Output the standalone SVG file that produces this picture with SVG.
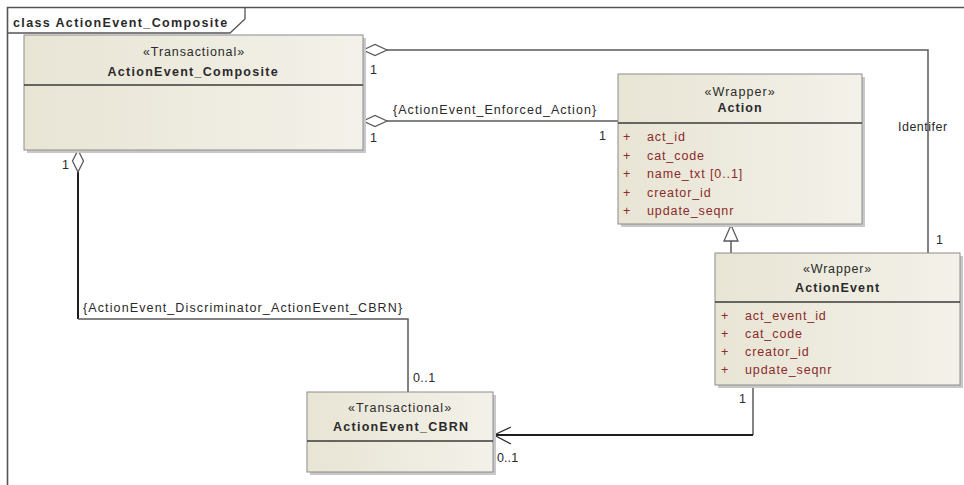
<svg xmlns="http://www.w3.org/2000/svg" width="964" height="485" viewBox="0 0 964 485">
<defs>
<linearGradient id="fill" x1="0" y1="0" x2="1" y2="0">
<stop offset="0" stop-color="#E8E5D5"/>
<stop offset="1" stop-color="#F3F1E9"/>
</linearGradient>
<style>
text{font-family:"Liberation Sans",Arial,sans-serif;font-size:12.5px;fill:#2a2a2a;letter-spacing:0.9px}
.b{font-weight:bold}
.c{text-anchor:middle}
.attr{fill:#8b2a2a}
.box{fill:url(#fill);stroke:#8c8c8c;stroke-width:1}
.sh{fill:#c8c8c8}
.div{stroke:#3a3a3a;stroke-width:1.5}
.ln{fill:none;stroke:#5a5a5a;stroke-width:1.5}
.dk{fill:none;stroke:#1e1e1e;stroke-width:2}
.dia{fill:#ffffff;stroke:#5a5a5a;stroke-width:1.3}
</style>
</defs>
<rect x="0" y="0" width="964" height="485" fill="#ffffff"/>
<g id="frame">
<path d="M7.5,485 V7.5 H964" fill="none" stroke="#555" stroke-width="1.6"/>
<path d="M7.5,33 H230 L245,19 V7.5" fill="none" stroke="#555" stroke-width="1.3"/>
<text x="13" y="27" class="b" textLength="215" lengthAdjust="spacing">class ActionEvent_Composite</text>
</g>
<g id="connectors">
<path class="ln" d="M387,50 H928 V253"/>
<polygon class="dia" points="363,50 375,44.5 387,50 375,55.5"/>
<path class="ln" d="M387,121 H618"/>
<polygon class="dia" points="363,121 375,115.5 387,121 375,126.5"/>
<path class="dk" d="M78,172 V319"/>
<path class="ln" d="M78,319 H408 V392"/>
<polygon class="dia" points="78,150 83.5,161 78,172 72.5,161"/>
<path class="ln" d="M731,253 V241"/>
<polygon points="731,225 738,241 724,241" fill="#ffffff" stroke="#5a5a5a" stroke-width="1.3"/>
<path class="ln" d="M753,385 V435"/>
<path class="dk" d="M753,435 H494" stroke-width="1.5"/>
<path d="M511,427 L494,435 L511,444" fill="none" stroke="#333" stroke-width="1.3"/>
<text x="370" y="74">1</text>
<text x="370" y="142">1</text>
<text x="393" y="114" textLength="204" lengthAdjust="spacing">{ActionEvent_Enforced_Action}</text>
<text x="599" y="140">1</text>
<text x="898" y="131" textLength="50" lengthAdjust="spacing">Identifer</text>
<text x="936" y="244">1</text>
<text x="62" y="169">1</text>
<text x="83" y="312" textLength="320" lengthAdjust="spacing">{ActionEvent_Discriminator_ActionEvent_CBRN}</text>
<text x="413" y="382" textLength="23" lengthAdjust="spacing">0..1</text>
<text x="739" y="403">1</text>
<text x="497" y="462" textLength="22" lengthAdjust="spacing">0..1</text>
</g>
<g id="ActionEvent_Composite">
<rect class="sh" x="27" y="38" width="339" height="115"/>
<rect class="box" x="24" y="35" width="339" height="115"/>
<line class="div" x1="24" y1="85" x2="363" y2="85"/>
<text x="194" y="56" class="c" textLength="102" lengthAdjust="spacing">«Transactional»</text>
<text x="193" y="76" class="c b" textLength="171" lengthAdjust="spacing">ActionEvent_Composite</text>
</g>
<g id="Action">
<rect class="sh" x="621" y="77" width="244" height="150"/>
<rect class="box" x="618" y="74" width="244" height="150"/>
<line class="div" x1="618" y1="123" x2="862" y2="123"/>
<text x="740" y="96" class="c" textLength="71" lengthAdjust="spacing">«Wrapper»</text>
<text x="740" y="112" class="c b" textLength="45" lengthAdjust="spacing">Action</text>
<text x="623" y="141" class="attr">+</text><text x="647" y="141" class="attr">act_id</text>
<text x="623" y="160" class="attr">+</text><text x="647" y="160" class="attr">cat_code</text>
<text x="623" y="178" class="attr">+</text><text x="647" y="178" class="attr">name_txt [0..1]</text>
<text x="623" y="197" class="attr">+</text><text x="647" y="197" class="attr">creator_id</text>
<text x="623" y="215" class="attr">+</text><text x="647" y="215" class="attr">update_seqnr</text>
</g>
<g id="ActionEvent">
<rect class="sh" x="718" y="256" width="245" height="132"/>
<rect class="box" x="715" y="253" width="245" height="132"/>
<line class="div" x1="715" y1="302" x2="960" y2="302"/>
<text x="837.5" y="273" class="c" textLength="69" lengthAdjust="spacing">«Wrapper»</text>
<text x="837.5" y="292" class="c b" textLength="85" lengthAdjust="spacing">ActionEvent</text>
<text x="721" y="320" class="attr">+</text><text x="745" y="320" class="attr">act_event_id</text>
<text x="721" y="338" class="attr">+</text><text x="745" y="338" class="attr">cat_code</text>
<text x="721" y="356" class="attr">+</text><text x="745" y="356" class="attr">creator_id</text>
<text x="721" y="374" class="attr">+</text><text x="745" y="374" class="attr">update_seqnr</text>
</g>
<g id="ActionEvent_CBRN">
<rect class="sh" x="310" y="395" width="186" height="80"/>
<rect class="box" x="307" y="392" width="186" height="80"/>
<line class="div" x1="307" y1="441" x2="493" y2="441"/>
<text x="400" y="412" class="c" textLength="104" lengthAdjust="spacing">«Transactional»</text>
<text x="401" y="431" class="c b" textLength="136" lengthAdjust="spacing">ActionEvent_CBRN</text>
</g>
</svg>
